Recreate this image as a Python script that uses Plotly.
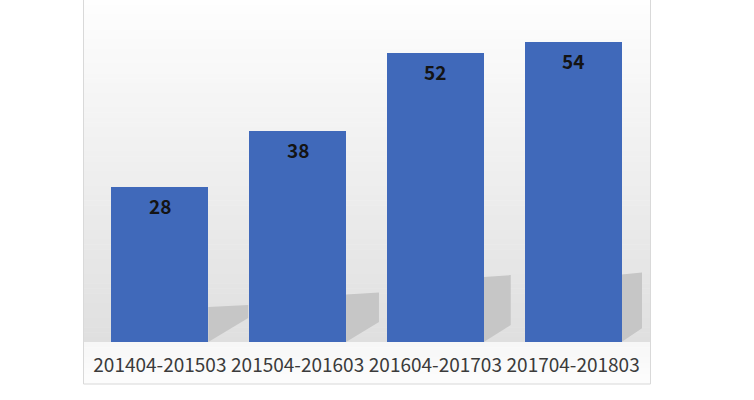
import plotly.graph_objects as go

categories = ["201404-201503", "201504-201603", "201604-201703", "201704-201803"]
values = [28, 38, 52, 54]

W, H = 754, 400
L, R, T, B = 90.5, 111.5, 9, 58
plot_w = W - L - R
plot_h = H - T - B
y_max = 60
bar_w = 0.703
px_per_cat = plot_w / len(categories)
px_per_val = plot_h / y_max

fig = go.Figure()
fig.add_trace(go.Bar(
    x=list(range(len(categories))), y=values, width=bar_w,
    marker=dict(color="#4069ba", line=dict(width=0)),
    hoverinfo="skip",
))

shapes = []

def hexgray(v):
    v = int(round(v))
    return "#%02x%02x%02x" % (v, v, v)

def px2paper_x(px):
    return (px - L) / plot_w

def py2paper_y(py):
    return (H - B - py) / plot_h

pan_l, pan_r = 83, 651
stops = [(0, 254), (100, 245), (200, 236), (300, 227), (342, 223)]
n = 70
for k in range(n):
    y0 = 342 * k / n
    y1 = 342 * (k + 1) / n
    ym = (y0 + y1) / 2
    for (a, ca), (b, cb) in zip(stops[:-1], stops[1:]):
        if a <= ym <= b:
            c = ca + (cb - ca) * (ym - a) / (b - a)
            break
    shapes.append(dict(type="rect", xref="paper", yref="paper",
                       x0=px2paper_x(pan_l), x1=px2paper_x(pan_r),
                       y0=py2paper_y(y1 + 0.5), y1=py2paper_y(y0),
                       fillcolor=hexgray(c), line=dict(width=0), layer="below"))
# floor
nf = 8
for k in range(nf):
    y0 = 342 + 42 * k / nf
    y1 = 342 + 42 * (k + 1) / nf
    c = 247 + 6 * k / nf
    shapes.append(dict(type="rect", xref="paper", yref="paper",
                       x0=px2paper_x(pan_l), x1=px2paper_x(pan_r),
                       y0=py2paper_y(y1 + 0.5), y1=py2paper_y(y0),
                       fillcolor=hexgray(c), line=dict(width=0), layer="below"))
# border
shapes.append(dict(type="rect", xref="paper", yref="paper",
                   x0=px2paper_x(pan_l), x1=px2paper_x(pan_r),
                   y0=py2paper_y(384), y1=py2paper_y(-2),
                   fillcolor="rgba(0,0,0,0)", line=dict(width=1, color="#d9d9d9"), layer="below"))

# perspective shadows behind bars
shadow_dx = [40, 33, 27, 21]
shadow_dy = [24, 20, 17, 14]
for i, v in enumerate(values):
    xr = i + bar_w / 2
    yt = v * 0.225
    dx = shadow_dx[i] / px_per_cat
    dy = shadow_dy[i] / px_per_val
    path = f"M {xr},0 L {xr},{yt} L {xr+dx},{yt + 2.0/px_per_val} L {xr+dx},{dy} Z"
    shapes.append(dict(type="path", path=path, xref="x", yref="y",
                       fillcolor="#c6c6c6", line=dict(width=0), layer="below"))

annotations = []
for i, v in enumerate(values):
    annotations.append(dict(x=i, y=v, xref="x", yref="y", text=str(v),
                            showarrow=False, yanchor="middle", yshift=-18.5,
                            font=dict(family="Noto Sans CJK JP", size=19, color="#141414",
                                      weight="bold")))

fig.update_layout(
    width=W, height=H,
    margin=dict(l=L, r=R, t=T, b=B, pad=0),
    paper_bgcolor="white", plot_bgcolor="rgba(0,0,0,0)",
    showlegend=False,
    shapes=shapes, annotations=annotations,
    bargap=0,
    xaxis=dict(range=[-0.5, 3.5], tickmode="array", tickvals=list(range(len(categories))),
               ticktext=categories, showgrid=False, zeroline=False, showline=False,
               ticks="outside", ticklen=6, tickcolor="rgba(0,0,0,0)",
               tickfont=dict(family="Noto Sans CJK JP", size=19, color="#3b3b3b"),
               fixedrange=True),
    yaxis=dict(range=[0, y_max], showgrid=False, zeroline=False, showline=False,
               showticklabels=False, fixedrange=True),
)

fig.write_html("out.html", config={"displayModeBar": False},
               post_script="document.body.style.margin='0';document.body.style.padding='0';")
